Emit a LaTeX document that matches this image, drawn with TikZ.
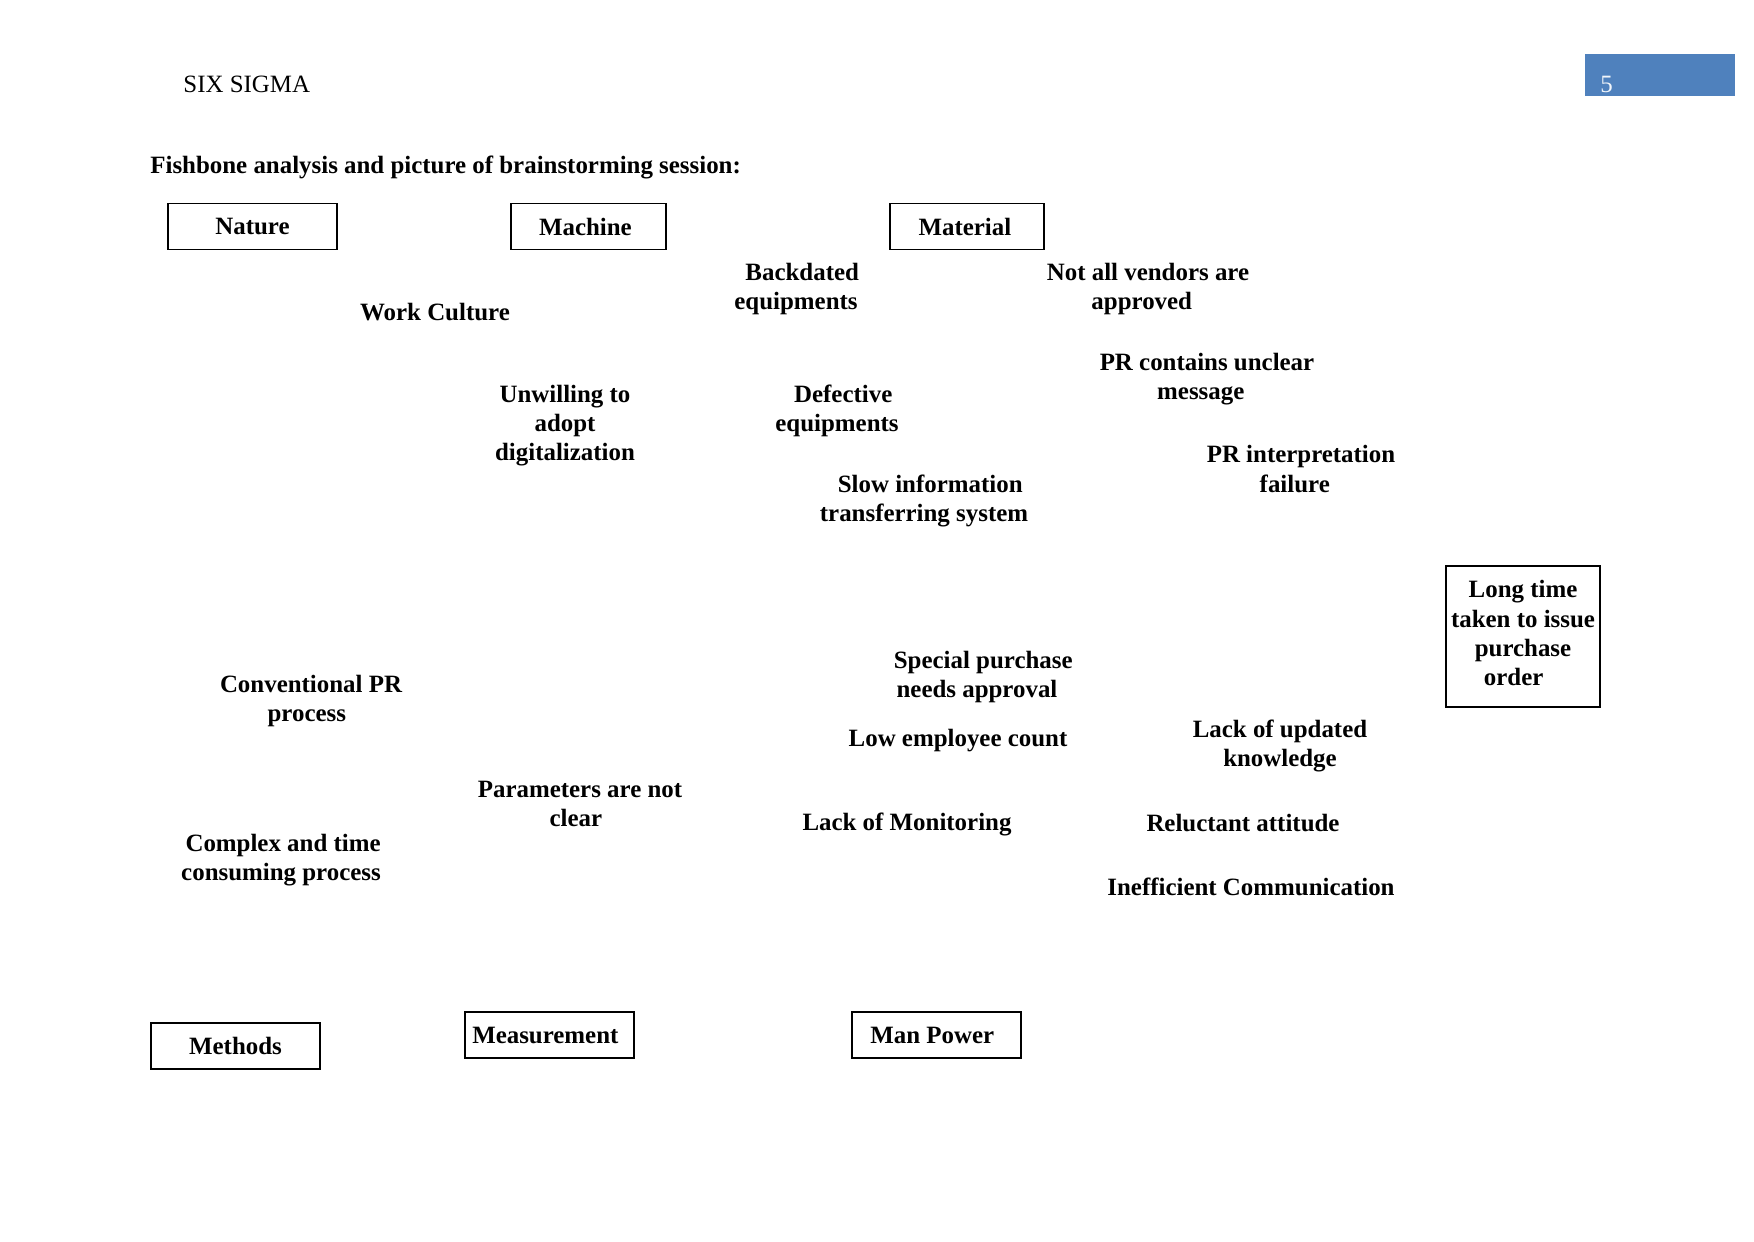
\documentclass[tikz,border=0pt]{standalone}
\usepackage{fontspec}
\setmainfont{Liberation Serif}
\newlength\px
\setlength\px{0.16933mm}
\definecolor{hdrblue}{HTML}{4F81BD}
\begin{document}
\begin{tikzpicture}[x=\px,y=-\px,
  lbl/.style={inner sep=0pt,align=center,font=\fontsize{12}{14}\selectfont\bfseries},
  catbox/.style={draw,line width=0.5pt,inner sep=0pt,minimum width=#1\px,minimum height=46\px,font=\fontsize{12}{14}\selectfont\bfseries},
  catbox/.default=169]
\useasboundingbox (0,0) rectangle (1754,1241);
% header
\node[anchor=west,inner sep=0pt,font=\fontsize{12}{14}\selectfont] (hdr) at (183,84) {SIX SIGMA};
\fill[hdrblue] (1585,54) rectangle (1735,96);
\node[anchor=west,inner sep=0pt,text=white!92!hdrblue,font=\fontsize{12}{14}\selectfont] (pg) at (1600,84) {5};
\node[anchor=west,lbl] (title) at (150,167) {Fishbone analysis and picture of brainstorming session:};
% category boxes
\node[catbox] (nature) at (252.5,226.5) {Nature};
\node[catbox=155] (machine) at (588.5,226.5) {Machine\hspace*{3pt}};
\node[catbox=154] (material) at (967,226.5) {Material\hspace*{2pt}};
\node[catbox] (methods) at (235.5,1046) {Methods};
\node[catbox] (measure) at (549.5,1035) {\hspace*{-4pt}Measurement};
\node[catbox] (manpower) at (936.5,1035) {Man Power\hspace*{4pt}};
% effect box
\node[draw,line width=0.5pt,minimum width=154\px,minimum height=141\px,inner sep=0pt] (effect) at (1523,636.5) {};
\node[lbl] (efftxt) at (1523,633) {Long time\\taken to issue\\purchase\\order\hspace*{9pt}};
% causes
\node[lbl] (backdated) at (796,289) {Backdated\hspace*{-6pt}\\equipments};
\node[lbl] (vendors) at (1148,289) {Not all vendors are\\approved\hspace*{6pt}};
\node[lbl] (work) at (435,312) {Work Culture};
\node[lbl] (prunclear) at (1207,379) {PR contains unclear\\message\hspace*{6pt}};
\node[lbl] (unwilling) at (565,426) {Unwilling to\\adopt\\digitalization};
\node[lbl] (defective) at (837,411) {Defective\hspace*{-6pt}\\equipments};
\node[lbl] (printerp) at (1301,469) {PR interpretation\\failure\hspace*{6pt}};
\node[lbl] (slow) at (924,501) {Slow information\hspace*{-6pt}\\transferring system};
\node[lbl] (special) at (977,677) {Special purchase\hspace*{-6pt}\\needs approval};
\node[lbl] (conv) at (311,701) {Conventional PR\\process\hspace*{4pt}};
\node[lbl] (lowemp) at (958,741) {Low employee count};
\node[lbl] (updated) at (1280,746) {Lack of updated\\knowledge};
\node[lbl] (params) at (580,804) {Parameters are not\\clear\hspace*{4pt}};
\node[lbl] (monitor) at (907,824) {Lack of Monitoring};
\node[lbl] (reluct) at (1243,823) {Reluctant attitude};
\node[lbl] (complex) at (281,860) {Complex and time\hspace*{-2pt}\\consuming process};
\node[lbl] (ineff) at (1251,887) {Inefficient Communication};
\end{tikzpicture}
\end{document}
